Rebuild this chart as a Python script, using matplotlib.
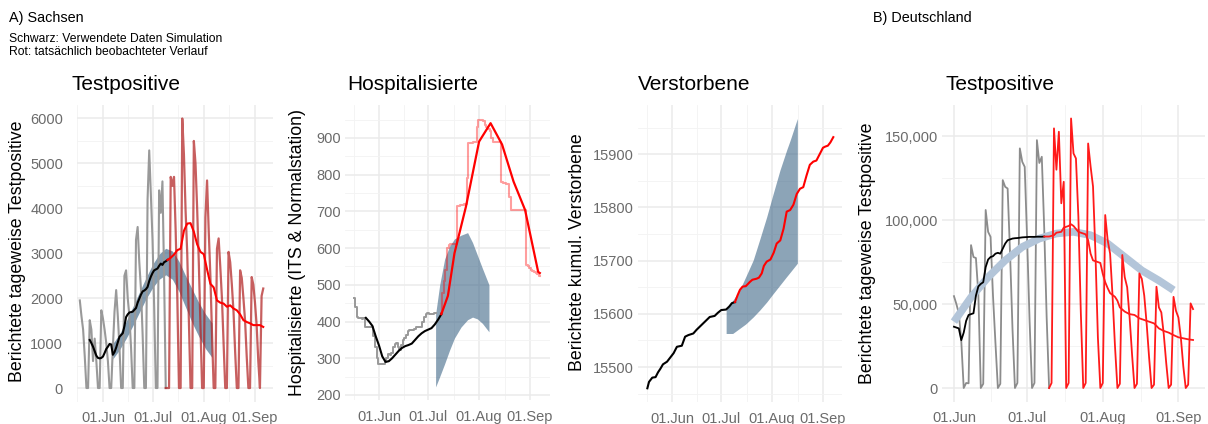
import numpy as np
import pandas as pd
import matplotlib
matplotlib.use("Agg")
import matplotlib.pyplot as plt
import matplotlib.dates as mdates
from matplotlib.ticker import MultipleLocator, FixedLocator, FuncFormatter

plt.rcParams['font.family'] = ['Liberation Sans', 'DejaVu Sans']

REF = pd.Timestamp('2022-06-01')   # day 0

def dates(days):
    return REF + pd.to_timedelta(np.asarray(days, dtype=float), unit='D')

def daily(start_day, vals):
    return dates(np.arange(start_day, start_day + len(vals))), vals

# ---------------- A) Sachsen - Testpositive ----------------
sn_pos_grey_start = -14
sn_pos_grey = [1950, 1600, 1300, 700, 0, 0,
               1510, 1300, 600, 1100, 600, 0, 0,
               1730, 1550, 1300, 1000, 600, 0, 0,
               900, 1700, 2180, 1600, 900, 0, 0,
               2500, 2620, 2000, 1600, 900, 0, 0,
               3300, 3585, 2800, 2200, 1200, 0, 0,
               4200, 5290, 4300, 3300, 1800, 0, 0,
               4400, 3900, 4600, 2500, 0]
sn_pos_red_start = 38
sn_pos_red = [0, 0, 0,
              4700, 4500, 4700, 3500, 2000, 0, 0,
              6000, 5200, 3950, 3000, 1500, 0, 0,
              5500, 5000, 4000, 2800, 1400, 0, 0,
              3800, 4620, 3500, 2500, 1200, 0, 0,
              3100, 3330, 2700, 2000, 1000, 0, 0,
              3030, 2800, 2300, 1700, 800, 0, 0,
              2620, 2450, 2000, 1500, 700, 0, 0,
              2470, 2300, 1900, 1400, 600, 0, 2050, 2215]
sn_pos_black_start = -8
sn_pos_black = [1070, 1000, 920, 820, 720, 670, 660, 670, 700, 780, 870, 920, 980,
                970, 740, 800, 900, 1020, 1140, 1180, 1220, 1380, 1580, 1640, 1680,
                1690, 1700, 1740, 1780, 1900, 1990, 2080, 2150, 2170, 2200, 2250,
                2380, 2480, 2560, 2620, 2640, 2660, 2720, 2770, 2740, 2800, 2820, 2850]
sn_pos_smooth_days = [39, 41, 43, 45, 47, 49, 51, 53, 55, 57, 59, 61, 63, 65, 67, 69,
                      71, 73, 75, 77, 79, 81, 83, 85, 87, 89, 91, 93, 95, 97]
sn_pos_smooth = [2850, 2900, 2970, 3070, 3100, 3500, 3660, 3670, 3480, 3200, 3030,
                 2980, 2640, 2320, 2240, 1950, 1900, 1880, 1810, 1840, 1770, 1730,
                 1640, 1510, 1470, 1440, 1400, 1400, 1400, 1360]
sn_pos_band_days = [6, 10, 14, 18, 22, 26, 30, 34, 38, 42, 46, 50, 54, 58, 62, 66]
sn_pos_band_hi = [990, 1200, 1480, 1800, 2130, 2450, 2750, 2980, 3110, 3050, 2820,
                  2500, 2200, 1900, 1650, 1450]
sn_pos_band_lo = [650, 850, 1100, 1380, 1680, 1980, 2230, 2420, 2520, 2420, 2150,
                  1800, 1450, 1150, 880, 680]

# ---------------- A) Sachsen - Hospitalisierte ----------------
sn_hosp_grey_start = -15
sn_hosp_grey = [463, 440, 412, 410, 410, 408, 410, 385, 385, 386, 385, 384, 360, 330, 300,
                283, 283, 283, 284, 290, 300, 312, 310, 315, 330, 340, 342, 330, 322, 335,
                350, 355, 362, 375, 377, 378, 376, 380, 385, 386, 385, 386, 400, 412, 420,
                422, 420, 421, 420, 423, 422]
sn_hosp_pink_start = 38
sn_hosp_pink = [422, 477, 510, 540, 600, 607, 610, 610, 612, 612, 715, 715, 718, 718,
                720, 720, 790, 885, 885, 887, 888, 890, 930, 950, 950, 948, 945, 935,
                930, 925, 920, 900, 890, 890, 888, 888, 888, 780, 778, 776, 775, 775,
                740, 704, 704, 704, 704, 704, 704, 704, 704, 704, 555, 550, 545, 540,
                538, 535, 532, 530, 523]
sn_hosp_black_days = [-8, -6, -4, -2, 0, 2, 4, 6, 8, 10, 12, 14, 16, 18, 20, 22, 24,
                      26, 28, 30, 32, 34, 36, 38]
sn_hosp_black = [410, 400, 388, 360, 335, 305, 290, 292, 300, 310, 320, 328, 333, 336,
                 340, 350, 360, 368, 374, 378, 382, 392, 405, 420]
sn_hosp_red_days = [38, 42, 46, 53, 61, 68, 75, 82, 89, 97, 98]
sn_hosp_red = [420, 470, 586, 713, 890, 940, 882, 781, 704, 535, 532]
sn_hosp_band_days = [34.5, 37, 40, 43, 46, 50, 54, 57, 60, 63, 67]
sn_hosp_band_hi = [420, 500, 570, 605, 625, 635, 642, 615, 580, 545, 500]
sn_hosp_band_lo = [222, 250, 285, 322, 355, 385, 405, 412, 407, 395, 372]

# ---------------- A) Sachsen - Verstorbene ----------------
sn_dead_black_days = [-15, -14, -13, -12, -10, -8.5, -7, -5.5, -3, -1, 1, 3, 6, 8, 10,
                      13, 15, 17, 20, 23, 26, 28, 30, 33, 35, 36.5, 38.4]
sn_dead_black = [15460, 15472, 15476, 15480, 15481, 15490, 15497, 15505, 15510, 15518,
                 15526, 15538, 15540, 15557, 15560, 15563, 15570, 15576, 15585, 15594,
                 15596, 15602, 15607, 15608, 15614, 15620, 15622]
sn_dead_red_days = [38.4, 40, 41.4, 43, 45, 47.5, 49, 51.6, 53, 54.7, 56, 57.7, 60, 62,
                    63.8, 66, 68, 69.9, 72, 74, 76, 78, 80, 82, 84, 86.1, 88, 90, 92,
                    93.2, 95, 96.5, 98.3]
sn_dead_red = [15622, 15635, 15645, 15651, 15652, 15660, 15664, 15666, 15668, 15676,
               15690, 15698, 15702, 15715, 15732, 15738, 15760, 15792, 15795, 15805,
               15825, 15835, 15838, 15860, 15880, 15886, 15888, 15900, 15912, 15914,
               15916, 15922, 15932]
sn_dead_band_days = [33, 37, 41, 45, 49.5, 53.5, 57.7, 61.7, 65.8, 69.9, 72, 76.4]
sn_dead_band_hi = [15607, 15625, 15643, 15670, 15701, 15740, 15782, 15826, 15870,
                   15908, 15926, 15967]
sn_dead_band_lo = [15563, 15563, 15572, 15581, 15594, 15607, 15622, 15638, 15654,
                   15670, 15678, 15695]

# ---------------- B) Deutschland - Testpositive ----------------
de_grey_start = 0
de_grey = [54700, 50000, 44400, 28000, 0, 3000, 2800,
           85100, 78000, 77400, 56000, 0, 2500,
           106000, 93000, 90000, 55000, 27000, 0, 2500,
           123800, 119800, 118800, 80000, 35000, 0, 3000,
           142700, 134700, 131700, 88000, 40000, 0, 3000,
           147600, 134000, 137700, 95000, 42000, 0]
de_red_start = 39
de_red = [0, 3000,
          154600, 130000, 152600, 110000, 122800, 0, 3000,
          160500, 139700, 136700, 102000, 45000, 0, 3000,
          145600, 132000, 120000, 80000, 30000, 0, 3000,
          103000, 88100, 80000, 55000, 25000, 0, 2500,
          79200, 66000, 60000, 42000, 20000, 0, 2500,
          68250, 65000, 55000, 38000, 18000, 0, 2000,
          60300, 48000, 45000, 32000, 15000, 0, 2000,
          54300, 46000, 42000, 30000, 13000, 0, 2000,
          50400, 47000]
de_black_start = 0
de_black = [36500, 36000, 35500, 28500, 33000, 40000, 43500, 44000, 44500, 55000,
            60500, 62000, 63000, 72000, 76500, 78000, 78500, 80000, 80500, 80000,
            83000, 86000, 88000, 88500, 89000, 89200, 89300, 89500, 89700, 89800,
            89900, 90000, 90000, 90000, 90100, 90100, 90100, 90200]
de_smooth_days = [37, 39, 41, 42, 44, 45, 47, 48, 49, 51, 53, 54, 55, 56, 57, 59, 60,
                  61, 62, 63, 64, 66, 67, 68, 70, 72, 74, 76, 78, 80, 82, 84, 86, 88,
                  90, 92, 94, 96, 98]
de_smooth = [90200, 90200, 91000, 92500, 93000, 95500, 96500, 97500, 96500, 93000,
             92000, 91500, 88000, 80000, 76000, 75000, 74500, 68000, 63000, 59500,
             56500, 54300, 52000, 48000, 45500, 44000, 43500, 41500, 40500, 39500,
             38500, 35500, 34000, 33000, 31500, 30200, 29600, 29000, 28600]
de_model_days = [0, 7, 14, 21, 28, 35, 42, 49, 56, 63, 70, 77, 84, 90]
de_model = [39500, 54000, 66000, 76000, 84000, 89000, 92000, 93000, 91000, 86000,
            78000, 70000, 64000, 58300]

# ---------------- drawing ----------------
W, H = 1208, 424
fig = plt.figure(figsize=(W / 100, H / 100), dpi=100)

GRID = '#EBEBEB'
TICK = '#6B6B6B'
BAND = '#3F6788'
GREY = '#999999'

def px_axes(l, t, r, b):
    return fig.add_axes([l / W, 1 - b / H, (r - l) / W, (b - t) / H])

month_ticks = [pd.Timestamp(s) for s in ['2022-06-01', '2022-07-01', '2022-08-01', '2022-09-01']]
minor_ticks = [pd.Timestamp('2022-05-16 12:00'), pd.Timestamp('2022-06-16'),
               pd.Timestamp('2022-07-16 12:00'), pd.Timestamp('2022-08-16 12:00')]

def style(ax, xlim, ylim, ymaj, ymin, ypad=3, fmt=None):
    ax.set_xlim(dates([xlim[0]])[0], dates([xlim[1]])[0])
    ax.set_ylim(*ylim)
    for s in ax.spines.values():
        s.set_visible(False)
    ax.xaxis.set_major_locator(FixedLocator(mdates.date2num(month_ticks)))
    ax.xaxis.set_minor_locator(FixedLocator(mdates.date2num(minor_ticks)))
    ax.xaxis.set_major_formatter(mdates.DateFormatter('%d.%b'))
    ax.yaxis.set_major_locator(MultipleLocator(ymaj))
    ax.yaxis.set_minor_locator(MultipleLocator(ymin))
    if fmt is not None:
        ax.yaxis.set_major_formatter(FuncFormatter(fmt))
    ax.grid(which='major', color=GRID, lw=1.1)
    ax.grid(which='minor', color='#F3F3F3', lw=0.6)
    ax.set_axisbelow(True)
    ax.tick_params(which='both', length=0, labelsize=10.5, labelcolor=TICK)
    ax.tick_params(axis='x', pad=7)
    ax.tick_params(axis='y', pad=ypad)

# Panel 1
ax1 = px_axes(77, 105, 273, 401.5)
x, y = daily(sn_pos_grey_start, sn_pos_grey)
ax1.plot(x, y, color=GREY, lw=1.5)
x, y = daily(sn_pos_red_start, sn_pos_red)
ax1.plot(x, y, color='#B22222', alpha=0.72, lw=1.6)
ax1.fill_between(dates(sn_pos_band_days), sn_pos_band_lo, sn_pos_band_hi,
                 color=BAND, alpha=0.65, lw=0)
x, y = daily(sn_pos_black_start, sn_pos_black)
ax1.plot(x, y, color='black', lw=1.5)
ax1.plot(dates(sn_pos_smooth_days), sn_pos_smooth, color='#FF0000', lw=1.5)
style(ax1, (-15.7, 102.9), (-300, 6300), 1000, 500, ypad=10,
      fmt=lambda v, _: f"{int(v)}")

# Panel 2
ax2 = px_axes(345, 105, 550, 400.3)
x, y = daily(sn_hosp_grey_start, sn_hosp_grey)
ax2.plot(x, y, color=GREY, lw=1.4, drawstyle='steps-mid')
x, y = daily(sn_hosp_pink_start, sn_hosp_pink)
ax2.plot(x, y, color='#FF0000', alpha=0.38, lw=1.5, drawstyle='steps-mid')
ax2.fill_between(dates(sn_hosp_band_days), sn_hosp_band_lo, sn_hosp_band_hi,
                 color=BAND, alpha=0.6, lw=0)
ax2.plot(dates(sn_hosp_black_days), sn_hosp_black, color='black', lw=1.5)
ax2.plot(dates(sn_hosp_red_days), sn_hosp_red, color='#FF0000', lw=1.6)
style(ax2, (-20.7, 104.2), (185.5, 989.5), 100, 50, fmt=lambda v, _: f"{int(v)}")

# Panel 3
ax3 = px_axes(638, 105, 842, 401.8)
ax3.fill_between(dates(sn_dead_band_days), sn_dead_band_lo, sn_dead_band_hi,
                 color=BAND, alpha=0.6, lw=0)
ax3.plot(dates(sn_dead_black_days), sn_dead_black, color='black', lw=1.5)
ax3.plot(dates(sn_dead_red_days), sn_dead_red, color='#FF0000', lw=1.5)
style(ax3, (-20.7, 103.6), (15434.6, 15992.4), 100, 50, fmt=lambda v, _: f"{int(v)}")

# Panel 4
ax4 = px_axes(942, 105, 1205, 401.5)
x, y = daily(de_grey_start, de_grey)
ax4.plot(x, y, color='#8C8C8C', lw=1.3)
ax4.plot(dates(de_model_days), de_model, color='#B3C5D9', lw=5.5, solid_capstyle='butt')
x, y = daily(de_black_start, de_black)
ax4.plot(x, y, color='black', lw=1.3)
x, y = daily(de_red_start, de_red)
ax4.plot(x, y, color='#FF1A1A', lw=1.3)
ax4.plot(dates(de_smooth_days), de_smooth, color='#FF1A1A', lw=1.3)
style(ax4, (-4.9, 102.9), (-8025, 168525), 50000, 25000, fmt=lambda v, _: f"{int(v):,}")

# titles / labels
def ftext(px, py, s, **kw):
    fig.text(px / W, 1 - py / H, s, **kw)

ftext(71, 85, 'Testpositive', fontsize=15, va='center')
ftext(347, 85, 'Hospitalisierte', fontsize=15, va='center')
ftext(638, 85, 'Verstorbene', fontsize=15, va='center')
ftext(945, 85, 'Testpositive', fontsize=15, va='center')

ftext(18, 251, 'Berichtete tageweise Testpositive', fontsize=12.8, rotation=90,
      ha='center', va='center')
ftext(298, 253, 'Hospitalisierte (ITS & Normalstation)', fontsize=12.8, rotation=90,
      ha='center', va='center')
ftext(577, 252, 'Berichtete kumul. Verstorbene', fontsize=12.8, rotation=90,
      ha='center', va='center')
ftext(868, 253, 'Berichtete tageweise Testpositive', fontsize=12.8, rotation=90,
      ha='center', va='center')

ftext(9, 18, 'A) Sachsen', fontsize=10.4, va='center')
ftext(9, 39, 'Schwarz: Verwendete Daten Simulation', fontsize=8.7, va='center')
ftext(9, 52, 'Rot: tatsächlich beobachteter Verlauf', fontsize=8.7, va='center')
ftext(873, 18, 'B) Deutschland', fontsize=10.4, va='center')

fig.savefig('out.png', dpi=100)
